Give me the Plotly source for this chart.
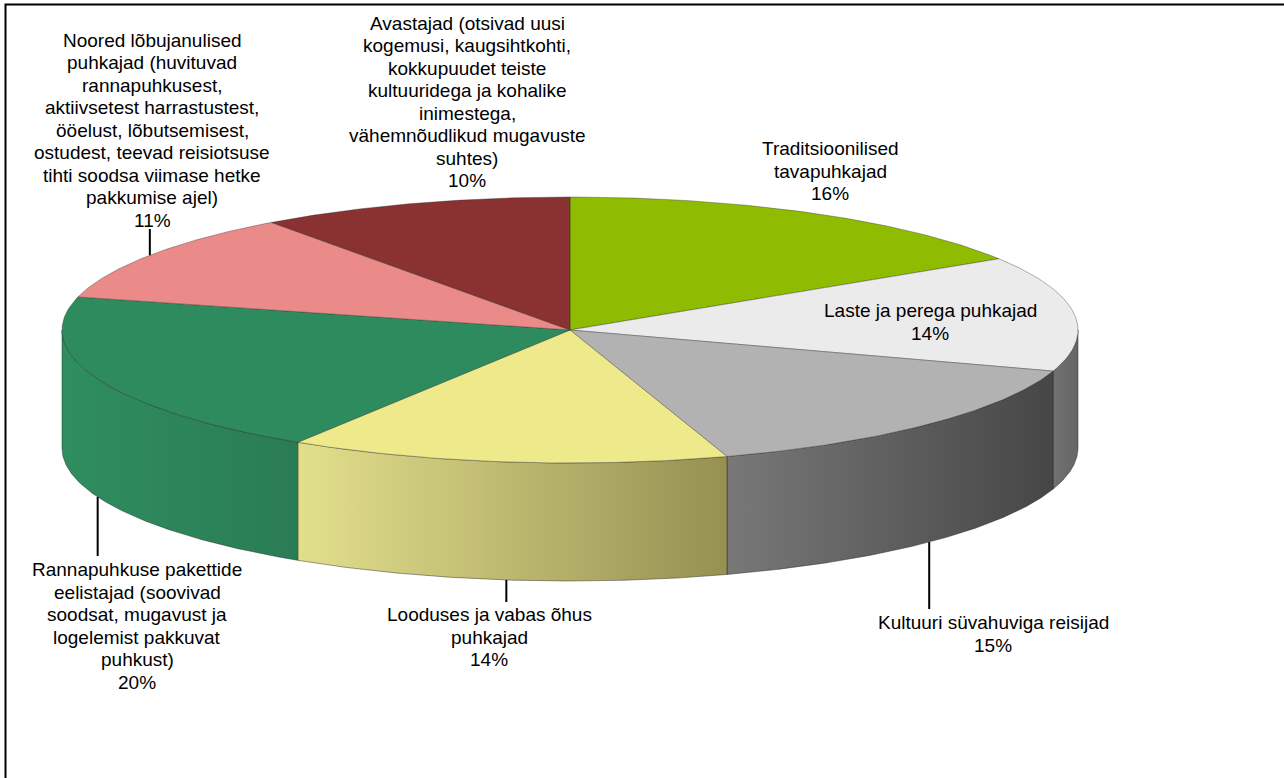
import numpy as np
import plotly.graph_objects as go

# Traveller segments, clockwise from 12 o'clock
segments = [
    "Traditsioonilised<br>tavapuhkajad",
    "Laste ja perega puhkajad",
    "Kultuuri süvahuviga reisijad",
    "Looduses ja vabas õhus<br>puhkajad",
    "Rannapuhkuse pakettide<br>eelistajad (soovivad<br>soodsat, mugavust ja<br>logelemist pakkuvat<br>puhkust)",
    "Noored lõbujanulised<br>puhkajad (huvituvad<br>rannapuhkusest,<br>aktiivsetest harrastustest,<br>ööelust, lõbutsemisest,<br>ostudest, teevad reisiotsuse<br>tihti soodsa viimase hetke<br>pakkumise ajel)",
    "Avastajad (otsivad uusi<br>kogemusi, kaugsihtkohti,<br>kokkupuudet teiste<br>kultuuridega ja kohalike<br>inimestega,<br>vähemnõudlikud mugavuste<br>suhtes)",
]
shares = [16, 14, 15, 14, 20, 11, 10]

# Styling
top_colors = ["#8FBC00", "#EBEBEB", "#B2B2B2", "#EEEA8C", "#2E8B5D", "#EA8B89", "#8A3232"]
side_colors = [
    ("#6E8F00", "#5C7800"),
    ("#707070", "#666666"),
    ("#787878", "#464646"),
    ("#E2DF8C", "#969052"),
    ("#2F8E5F", "#2A7C55"),
    ("#C07270", "#A86260"),
    ("#6E2828", "#5A2020"),
]
FONT = dict(family="Liberation Sans, Arial, sans-serif", size=19, color="black")
LINE_STEP = 22.5

# Label placement (pixel centres) and leader-line ends (None = no leader)
label_pos = [(830, 171), (930, 322), (993, 634), (489, 637), (137, 626), (152, 130), (467, 102)]
leader_end = [None, None, 609, 602, 556, 229, None]

# Projected pie geometry in pixels
CX, CY, RX, RY, DEPTH = 570, 330, 508, 133, 118
W, H = 1284, 778


def rim(t0, t1, n=120, dy=0.0):
    th = np.radians(np.linspace(t0, t1, n))
    return CX + RX * np.sin(th), CY - RY * np.cos(th) + dy


total = sum(shares)
cum = np.concatenate([[0], np.cumsum(shares)]) / total * 360

fig = go.Figure()

# Front side walls (visible between 90° and 270°)
for i in range(len(shares)):
    a0, a1 = max(cum[i], 90), min(cum[i + 1], 270)
    if a1 <= a0:
        continue
    xt, yt = rim(a0, a1)
    xb, yb = rim(a1, a0, dy=DEPTH)
    xs = np.concatenate([xt, xb, xt[:1]])
    ys = np.concatenate([yt, yb, yt[:1]])
    c0, c1 = side_colors[i]
    fig.add_trace(go.Scatter(
        x=xs, y=ys, mode="lines", fill="toself",
        fillcolor=c0,
        fillgradient=dict(type="horizontal", colorscale=[[0, c0], [1, c1]]),
        line=dict(color="rgba(30,30,30,0.55)", width=0.8),
        hoverinfo="skip", showlegend=False,
    ))

# Top faces
for i in range(len(shares)):
    xt, yt = rim(cum[i], cum[i + 1])
    xs = np.concatenate([[CX], xt, [CX]])
    ys = np.concatenate([[CY], yt, [CY]])
    fig.add_trace(go.Scatter(
        x=xs, y=ys, mode="lines", fill="toself", fillcolor=top_colors[i],
        line=dict(color="rgba(40,40,40,0.45)", width=0.8),
        hoverinfo="skip", showlegend=False,
    ))

# Leader lines from the slice midpoint to its label
for i in range(len(shares)):
    if leader_end[i] is None:
        continue
    mid = (cum[i] + cum[i + 1]) / 2
    x0, y0 = rim(mid, mid, n=1)
    y0 = y0[0]
    if 90 < mid < 270:
        y0 += DEPTH
    fig.add_trace(go.Scatter(
        x=[x0[0], x0[0]], y=[y0, leader_end[i]], mode="lines",
        line=dict(color="black", width=2), hoverinfo="skip", showlegend=False,
    ))

# Data labels, one annotation per text line for tight line spacing
for i, (name, v) in enumerate(zip(segments, shares)):
    lx, ly = label_pos[i]
    lines = f"{name}<br>{v}%".split("<br>")
    n = len(lines)
    for k, line in enumerate(lines):
        fig.add_annotation(
            x=lx, y=ly + (k - (n - 1) / 2) * LINE_STEP, xref="x", yref="y",
            text=line, showarrow=False, xanchor="center", yanchor="middle",
            font=FONT,
        )

# Chart frame
fig.add_shape(type="rect", xref="x", yref="y", x0=5.5, y0=4.5, x1=W + 20, y1=H + 20,
              line=dict(color="black", width=2), fillcolor="rgba(0,0,0,0)", layer="below")

fig.update_layout(
    width=W, height=H,
    margin=dict(l=0, r=0, t=0, b=0),
    paper_bgcolor="white", plot_bgcolor="white",
    xaxis=dict(range=[0, W], visible=False, fixedrange=True),
    yaxis=dict(range=[H, 0], visible=False, fixedrange=True),
    showlegend=False,
)

fig.write_html("out.html")
